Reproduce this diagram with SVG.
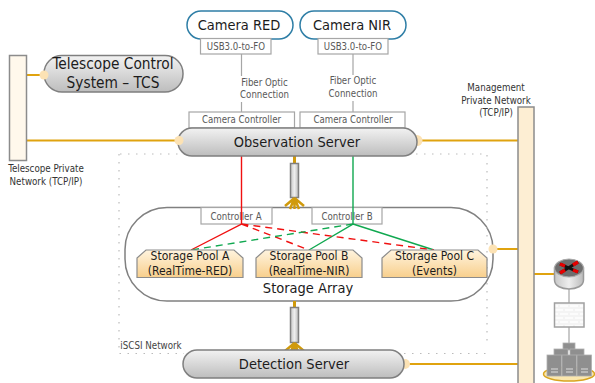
<svg xmlns="http://www.w3.org/2000/svg" width="595" height="383" viewBox="0 0 595 383">
<style>
text{font-family:"DejaVu Sans","Noto Sans","Liberation Sans",sans-serif;font-stretch:condensed;text-anchor:middle;fill:#1c1c1c}
.s{font-size:9.600px;fill:#595959}
.m{font-size:9.700px;fill:#333}
.l{font-size:14.500px}
.t{font-size:15.300px}
.p{font-size:12px}
.box{fill:#fff;stroke:#a6a6a6;stroke-width:1.2}
.srv{fill:url(#g);stroke:#7f7f7f;stroke-width:1.5}
.bus{fill:#fdeed3;stroke:#8c8c8c;stroke-width:1.5}
.cam{fill:#fff;stroke:#2e7ea6;stroke-width:1.5}
.pool{fill:url(#o);stroke:#8c8c8c;stroke-width:1.2}
.y{stroke:#e0a30f;stroke-width:1.800;fill:none}
.dot{fill:#fce2b4}
.gr{stroke:#a6a6a6;stroke-width:1.2;fill:none}
.r{stroke:#f01010;stroke-width:1.400;fill:none}
.n{stroke:#10a850;stroke-width:1.400;fill:none}
.d{stroke-dasharray:7 5}
.fan{stroke:#d09a0c;stroke-width:2.500;fill:none}
.link{fill:url(#h);stroke:#808080;stroke-width:1.500}
.sv{fill:#8f8f8f;stroke:#b0b0b0;stroke-width:.8}
.dots{fill:none;stroke:#bbb;stroke-width:1.200;stroke-dasharray:1.500 6.500}
</style>
<defs>
<linearGradient id="g" x1="0" y1="0" x2="0" y2="1"><stop offset="0" stop-color="#f2f2f2"/><stop offset="1" stop-color="#bdbdbd"/></linearGradient>
<linearGradient id="h" x1="0" y1="0" x2="1" y2="0"><stop offset="0" stop-color="#c8c8c8"/><stop offset=".5" stop-color="#eee"/><stop offset="1" stop-color="#bbb"/></linearGradient>
<linearGradient id="o" x1="0" y1="0" x2="0" y2="1"><stop offset="0" stop-color="#fff4df"/><stop offset="1" stop-color="#f8cf8c"/></linearGradient>
<pattern id="brick" width="10" height="8" patternUnits="userSpaceOnUse"><rect width="10" height="8" fill="#f4f4f4"/><path d="M0 2H8M5 6H10M0 6H3" stroke="#fff" stroke-width="1.500"/></pattern>
</defs>
<g id="storage-array"><rect x="125" y="207.500" width="368" height="93.500" rx="42" fill="#fff" stroke="#808080" stroke-width="1.500"/><text class="l" x="308" y="293">Storage Array</text></g>
<g id="iscsi-label"><text x="151" y="349" style="font-size:9.700px;fill:#444">iSCSI Network</text></g>
<g id="controller-a"><rect class="box" x="201" y="207.500" width="71" height="16.500"/><text class="s" x="236" y="219.500">Controller A</text></g>
<g id="controller-b"><rect class="box" x="312" y="207.500" width="70" height="16.500"/><text class="s" x="347" y="219.500">Controller B</text></g>
<g id="connectors">
<path class="gr" d="M241.500 54V76M241.500 102V112M353 54V75M353 101V112"/>
<path class="dots" d="M120 154H487V345M119 154V353.500H184M404 353.500H487"/>
<path class="y" d="M27 75H42M27 140.500H178M417 140.500H518M404 364H518M493 249H518M534 274H555"/>
<path class="r" d="M241.500 156V224L191 250"/>
<path class="n" d="M353 156V224L309 250M353 224L434 250"/>
<path class="r d" d="M241.500 224L309 250M241.500 224L434 250"/>
<path class="n d" d="M353 224L191 250"/>
<path class="gr" d="M569 289V303M569 327V343"/>
<path stroke="#d09a0c" stroke-width="3" d="M294.500 156V164M294.500 301V308" fill="none"/>
</g>
<g id="telescope-network"><rect class="bus" x="9.500" y="55.500" width="17" height="105" style="fill:#fff8ec"/><text class="m" x="46" y="172">Telescope Private</text><text class="m" x="46" y="185">Network (TCP/IP)</text></g>
<g id="tcs"><rect class="srv" x="44" y="55.500" width="139" height="36.500" rx="18"/><circle class="dot" cx="44" cy="75" r="4.500"/><text class="t" x="113" y="69">Telescope Control</text><text class="t" x="113" y="88">System – TCS</text></g>
<g id="camera-red"><rect class="cam" x="187" y="11" width="106" height="28" rx="14"/><text class="l" x="239" y="30">Camera RED</text></g>
<g id="camera-nir"><rect class="cam" x="300" y="11" width="106" height="28" rx="14"/><text class="l" x="352" y="30">Camera NIR</text></g>
<g id="usb-red"><rect class="box" x="200.500" y="38.500" width="70.500" height="15.500"/><text class="s" x="236" y="49.500">USB3.0-to-FO</text></g>
<g id="usb-nir"><rect class="box" x="318" y="38.500" width="70" height="15.500"/><text class="s" x="353" y="49.500">USB3.0-to-FO</text></g>
<g id="fiber-red"><text class="s" x="264.500" y="86">Fiber Optic</text><text class="s" x="264.500" y="98">Connection</text></g>
<g id="fiber-nir"><text class="s" x="353" y="84">Fiber Optic</text><text class="s" x="353" y="97">Connection</text></g>
<g id="controller-red"><rect class="box" x="189" y="112" width="105.500" height="16"/><text class="s" x="241.500" y="123">Camera Controller</text></g>
<g id="controller-nir"><rect class="box" x="300" y="112" width="105" height="16"/><text class="s" x="353" y="123">Camera Controller</text></g>
<circle class="dot" cx="417" cy="140.500" r="5.500"/>
<g id="observation-server"><rect class="srv" x="178" y="128" width="239" height="28" rx="14"/><circle class="dot" cx="179" cy="140.500" r="4.500"/><text class="l" x="297" y="147">Observation Server</text></g>
<g id="mgmt-network"><rect class="bus" x="518" y="107" width="16" height="278"/><text class="m" x="496" y="91">Management</text><text class="m" x="496" y="104">Private Network</text><text class="m" x="496" y="116">(TCP/IP)</text></g>
<g id="link-top"><rect class="link" x="290.500" y="163.500" width="8" height="34"/><path class="fan" d="M294.500 198L285 206M294.500 198L290 209M294.500 198V209M294.500 198L299 209M294.500 198L304 206"/></g>
<g id="link-bottom"><rect class="link" x="290.500" y="307.500" width="8" height="35"/><path class="fan" d="M294.500 343L285 351M294.500 343L290 354M294.500 343V354M294.500 343L299 354M294.500 343L304 351"/></g>
<g id="pool-a"><path class="pool" d="M137 277.500V258L146 250H234L243 258V277.500Z"/><text class="p" x="190" y="260">Storage Pool A</text><text class="p" x="190" y="275">(RealTime-RED)</text></g>
<g id="pool-b"><path class="pool" d="M256 277.500V258L265 250H353L362 258V277.500Z"/><text class="p" x="309" y="260">Storage Pool B</text><text class="p" x="309" y="275">(RealTime-NIR)</text></g>
<g id="pool-c"><path class="pool" d="M382 277.500V258L391 250H478L487 258V277.500Z"/><text class="p" x="434.500" y="260">Storage Pool C</text><text class="p" x="434.500" y="275">(Events)</text></g>
<circle class="dot" cx="493" cy="249" r="4.500"/>
<circle class="dot" cx="405" cy="364" r="5"/>
<g id="detection-server"><rect class="srv" x="183" y="350" width="221" height="28" rx="14"/><text class="l" x="294" y="369">Detection Server</text></g>
<g id="router"><path d="M554.500 268V280C554.500 292 583.500 292 583.500 280V268Z" fill="url(#h)" stroke="#999" stroke-width="1.500"/><ellipse cx="569" cy="268" rx="14.500" ry="9" fill="#6e6e6e" stroke="#aaa" stroke-width="1.200"/><path d="M560 264L578 272M578 262L560 273" stroke="#111" stroke-width="3"/><path d="M560 264L565 266M573 270L578 272M578 262L573 265M565 270L560 273" stroke="#e60000" stroke-width="3.500"/></g>
<g id="firewall"><rect x="554.500" y="303" width="29.500" height="24" fill="url(#brick)" stroke="#a0a0a0" stroke-width="1.500"/></g>
<g id="servers"><ellipse cx="569" cy="374" rx="25.500" ry="7" fill="#fbe7ae" stroke="#d9a520" stroke-width="1.500"/><rect class="sv" x="563" y="343" width="12" height="7"/><rect class="sv" x="554" y="349" width="14" height="7"/><rect class="sv" x="570" y="349" width="14" height="7"/><rect class="sv" x="547" y="355" width="14.500" height="21"/><rect class="sv" x="562" y="355" width="14.500" height="21"/><rect class="sv" x="577" y="355" width="14.500" height="21"/><path d="M551 369H558M551 372H558M566 369H573M566 372H573M581 369H588M581 372H588" stroke="#ddd" stroke-width="1"/></g>
</svg>
